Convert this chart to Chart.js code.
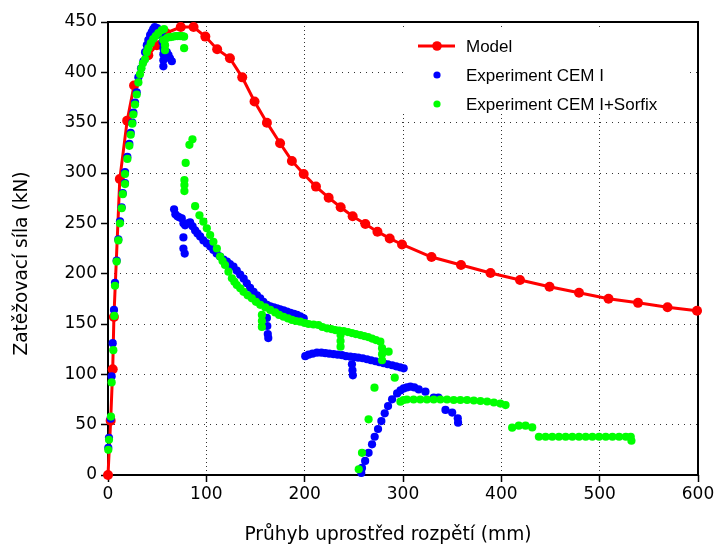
<!DOCTYPE html>
<html>
<head>
<meta charset="utf-8">
<script src="https://cdn.jsdelivr.net/npm/chart.js@4.4.0/dist/chart.umd.min.js"></script>
<style>
  html, body { margin: 0; padding: 0; background: #fff; }
  canvas { display: block; }
</style>
</head>
<body>
<canvas id="chart" width="719" height="546"></canvas>
<script>
// [průhyb mm, síla kN]
const modelPoints = [
  [0, 0], [2.7, 54], [4.8, 105], [6, 157], [12, 294], [19.5, 352], [26.5, 387],
  [41, 417], [49.6, 427], [59, 439], [74, 445], [87, 445], [99, 435.5], [111, 423],
  [124, 414], [136.5, 395], [149, 371], [161.6, 350], [175, 329.5], [187, 312],
  [199, 299], [211.5, 286.5], [224.4, 275.5], [236.6, 266], [248.8, 257], [261.7, 249.3],
  [274, 241.7], [286.5, 235], [299, 229], [329, 216.5], [359, 208.6], [389, 200.7],
  [419, 193.7], [449, 187], [479, 181], [509, 175], [539, 171], [569, 166.6], [599, 163.2]
];

const cemPoints = [
  // nabíhání
  [0.3, 27], [1, 37], [2.7, 56], [3.7, 98], [4.8, 131], [6.1, 164], [7.1, 191], [8.8, 213],
  [10.5, 234], [12.2, 252], [13.9, 266], [15, 280], [17.3, 290], [17.3, 301], [19.7, 316],
  [21.7, 329], [23.1, 340], [24.7, 350], [25.8, 360], [27.5, 370], [29.2, 380], [30.9, 395],
  [33.6, 404], [36, 411], [37.7, 420], [39.5, 427], [41, 432], [42.8, 437], [44.5, 440],
  [46, 443], [47.5, 445], [50, 444], [52.5, 441], [54.6, 437], [55.5, 430], [56.3, 424],
  [56.3, 418], [56.3, 412], [56.3, 406], [58, 420], [59.8, 420], [61.5, 417], [63, 414],
  [64.9, 411],
  // po poklesu
  [67.2, 264], [68.5, 259], [70.6, 257], [72.5, 256], [75, 255], [76.7, 250], [78.4, 248],
  [76.7, 236], [76.7, 225], [78, 220], [81, 250], [83.5, 251], [86, 247], [88.6, 243],
  [91, 240], [93.7, 237], [97, 233], [100.5, 230], [104, 227], [107.2, 223.5], [110.5, 220],
  [114, 217], [117.5, 214], [121, 212], [124, 209.5], [127.6, 207], [131, 203], [134.4, 199],
  [138, 195], [141.2, 190.5], [144.5, 186], [148, 182], [151.5, 178.5], [154.8, 175.5],
  [158, 172], [161.6, 169], [165, 167.5], [168.5, 166.5], [171.8, 165.6], [175, 164.5],
  [178.5, 163.5], [182, 162.2], [185.5, 161], [189, 160], [192.2, 159], [195.5, 157.5],
  [199, 155.7], [161.6, 156], [162, 148], [162.5, 140], [163, 136],
  // druhá větev
  [200.6, 118], [204, 119.5], [208, 120.5], [212.5, 121.5], [217, 121.5], [221, 121],
  [225, 120.5], [229.4, 120], [233.5, 119.5], [238, 119], [242, 118], [246.4, 117.5],
  [250.5, 117], [254.5, 116.5], [259, 116], [263.4, 115], [267.5, 114], [272, 113],
  [276, 112], [280.3, 111], [284.5, 110], [289, 109], [293, 108], [297, 107], [300.7, 106],
  [248.1, 110], [248.6, 104], [249, 99],
  // třetí větev
  [257.6, 2], [258.3, 7], [261.5, 14], [265, 22], [268.5, 30.5], [271.2, 38], [274.6, 45.7],
  [278, 53.6], [281.4, 61.3], [284.8, 68.5], [288.9, 75.2], [294, 81], [297.5, 84],
  [300.7, 86], [304, 87], [307.5, 87.7], [311.5, 87], [316, 85], [322.8, 82.8], [331.3, 77],
  [336, 77], [343.2, 64.6], [350, 62], [355.7, 56.3], [356, 52]
];

const sorfixPoints = [
  // nabíhání
  [0.3, 25], [1, 35], [3, 58], [3.7, 92], [5.4, 124], [6.4, 158], [7.1, 188], [8.8, 212],
  [10.5, 233], [12.2, 250], [13.9, 265], [15, 279], [17.3, 289], [17.3, 299], [19.7, 314],
  [21.7, 327], [23.1, 338], [24.7, 349], [25.8, 358], [27.5, 368], [29.2, 378], [30.9, 390],
  [32.5, 398], [34, 404], [35.5, 409], [37.7, 413], [39.5, 420], [41, 424], [43.5, 429],
  [46, 433], [48.5, 436], [51.2, 439], [54.7, 442], [57, 443], [56.3, 432], [58, 427],
  [58, 422], [59.8, 434], [62, 435], [64, 435], [66.5, 435.5], [69, 436], [71, 436],
  [73.3, 436], [75.5, 436], [77.4, 435.4], [77.4, 424],
  // po poklesu
  [85.9, 333.5], [82.8, 328], [79, 310], [77.7, 293], [77.7, 288], [77.7, 282], [88.6, 267],
  [93, 258], [97, 251.6], [100.5, 245], [103.9, 238.4], [107.2, 231.7], [110.7, 225],
  [114, 217], [116.5, 212.5], [119, 208.6], [122.5, 202], [126, 195.4], [128.5, 192],
  [131, 188.7], [134.5, 185.5], [137.8, 182], [142, 178.5], [146.3, 175.5], [150.5, 172],
  [154.8, 169], [160, 166.5], [165, 164], [170, 161.5], [174, 159], [178.5, 157.2],
  [183, 155.5], [187, 154], [191, 153], [195.5, 152.3], [200, 151], [204, 150],
  [209, 149.5], [214, 149], [218, 147], [222.7, 145.7], [227, 145], [231, 144],
  [235, 143.5], [239.6, 143], [244, 142], [248, 141], [252, 140], [256.6, 139],
  [260.5, 138], [264.5, 137], [268.5, 135.5], [272.5, 134], [277, 132.4],
  [156.5, 159], [156.5, 153], [156.5, 147], [236.5, 139], [236.5, 133], [236.5, 127.5],
  [278.7, 126], [278.7, 120], [278.7, 114], [285.4, 122.5],
  [271, 86.7], [291.6, 96.7], [265, 55.3], [258.3, 22], [255, 5.7],
  // čtvrtá větev
  [297.4, 72.8], [300.5, 74.5], [304, 75], [310.8, 75], [317.6, 75], [324.4, 75],
  [331.2, 75], [338, 75], [344.8, 75], [351.6, 74.5], [358.4, 74.5], [365.2, 74.5],
  [372, 74], [378.8, 73.5], [385.6, 73], [392.4, 72], [399, 71], [404.3, 69.5],
  [411, 47], [417.8, 49], [424.6, 49], [431.4, 47.3],
  [438.2, 38], [445, 38], [451.8, 38], [458.6, 38], [465.4, 38], [472.2, 38], [479, 38],
  [485.8, 38], [492.6, 38], [499.4, 38], [506.2, 38], [513, 38], [519.8, 38], [526.6, 38],
  [531.6, 38], [532.3, 34]
];

const seriesNames = ["Model", "Experiment CEM I", "Experiment CEM I+Sorfix"];
const seriesColors = ["#ff0000", "#0000ff", "#00ff00"];
const xTitle = "Průhyb uprostřed rozpětí (mm)";
const yTitle = "Zatěžovací síla (kN)";

const toXY = (pts) => pts.map((p) => ({ x: p[0], y: p[1] }));

// rámeček grafu + popisky os
const framePlugin = {
  id: "frame",
  beforeDatasetsDraw(chart) {
    const { ctx, chartArea: a } = chart;
    ctx.save();
    ctx.strokeStyle = "#000";
    ctx.lineWidth = 2;
    ctx.strokeRect(a.left, a.top, a.right - a.left, a.bottom - a.top);

    ctx.fillStyle = "#000";
    ctx.font = '18.6px "DejaVu Sans", sans-serif';
    ctx.textAlign = "center";
    ctx.textBaseline = "middle";
    ctx.fillText(xTitle, (a.left + a.right) / 2 - 15, chart.height - 11);
    ctx.translate(22, (a.top + a.bottom) / 2 + 15);
    ctx.rotate(-Math.PI / 2);
    ctx.fillText(yTitle, 0, 0);
    ctx.restore();
  },
};

// legenda uvnitř grafu
const legendPlugin = {
  id: "innerLegend",
  afterDatasetsDraw(chart) {
    const { ctx, chartArea: a } = chart;
    const left = a.right - 295;
    const top = a.top + 8;
    ctx.save();
    ctx.fillStyle = "#fff";
    ctx.fillRect(left, top, 282, 84);
    seriesNames.forEach((name, i) => {
      const y = top + 16 + i * 29;
      const cx = left + 34;
      ctx.fillStyle = seriesColors[i];
      if (i === 0) {
        ctx.strokeStyle = seriesColors[i];
        ctx.lineWidth = 3;
        ctx.beginPath();
        ctx.moveTo(left + 15, y);
        ctx.lineTo(left + 52, y);
        ctx.stroke();
        ctx.beginPath();
        ctx.arc(cx, y, 4.8, 0, Math.PI * 2);
        ctx.fill();
      } else {
        ctx.beginPath();
        ctx.arc(cx, y, 3.6, 0, Math.PI * 2);
        ctx.fill();
      }
      ctx.fillStyle = "#000";
      ctx.font = '17px "Liberation Sans", Arial, sans-serif';
      ctx.textBaseline = "middle";
      ctx.fillText(name, left + 63, y + 1);
    });
    ctx.restore();
  },
};

const tickFont = { family: '"DejaVu Sans", sans-serif', size: 17 };

new Chart(document.getElementById("chart"), {
  type: "scatter",
  data: {
    datasets: [
      {
        label: seriesNames[2],
        data: toXY(sorfixPoints),
        backgroundColor: seriesColors[2],
        pointRadius: 4.1,
        pointBorderWidth: 0,
        order: 0,
        clip: 6,
      },
      {
        label: seriesNames[1],
        data: toXY(cemPoints),
        backgroundColor: seriesColors[1],
        pointRadius: 4.1,
        pointBorderWidth: 0,
        order: 1,
        clip: 6,
      },
      {
        label: seriesNames[0],
        data: toXY(modelPoints),
        showLine: true,
        borderColor: seriesColors[0],
        borderWidth: 3,
        backgroundColor: seriesColors[0],
        pointRadius: 5,
        pointBorderWidth: 0,
        order: 2,
        clip: 6,
      },
    ],
  },
  options: {
    responsive: false,
    animation: false,
    devicePixelRatio: 1,
    layout: { padding: { top: 22, right: 21, left: 0, bottom: 0 } },
    plugins: {
      legend: { display: false },
      tooltip: { enabled: false },
    },
    scales: {
      x: {
        type: "linear",
        min: 0,
        max: 600,
        afterFit: (s) => { s.height = 71; },
        ticks: { stepSize: 100, color: "#000", font: tickFont, padding: 2, maxRotation: 0 },
        grid: {
          color: "rgba(0,0,0,0.8)",
          lineWidth: 1,
          tickLength: 7,
          tickColor: "#000",
          tickWidth: 1.5,
          tickBorderDash: [],
        },
        border: { display: false, dash: [1, 3] },
      },
      y: {
        type: "linear",
        min: 0,
        max: 450,
        afterFit: (s) => { s.width = 108; },
        ticks: { stepSize: 50, color: "#000", font: tickFont, padding: 4 },
        grid: {
          color: "rgba(0,0,0,0.8)",
          lineWidth: 1,
          tickLength: 7,
          tickColor: "#000",
          tickWidth: 1.5,
          tickBorderDash: [],
        },
        border: { display: false, dash: [1, 5] },
      },
    },
  },
  plugins: [framePlugin, legendPlugin],
});
</script>
</body>
</html>
